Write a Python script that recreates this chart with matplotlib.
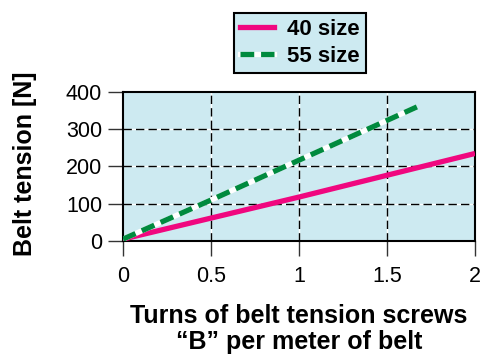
import numpy as np
import matplotlib.pyplot as plt
from matplotlib.lines import Line2D

# Data
turns_40 = [0, 1, 2]
tension_40 = [5, 118, 235]
turns_55 = [0, 0.5, 1, 1.67]
tension_55 = [5, 110, 217, 360]

x_ticks = [0, 0.5, 1, 1.5, 2]
x_tick_labels = ["0", "0.5", "1", "1.5", "2"]
y_ticks = [0, 100, 200, 300, 400]

plt.rcParams["font.family"] = ["Liberation Sans", "DejaVu Sans"]

BG = "#cdeaf1"
PINK = "#f0077f"
GREEN = "#008a3e"

W, H = 485, 359
fig = plt.figure(figsize=(W / 100, H / 100), dpi=100)
ax = fig.add_axes([123 / W, 1 - 241 / H, 352 / W, 149 / H])
ax.set_facecolor(BG)

ax.set_xlim(0, 2)
ax.set_ylim(0, 400)

# grid: white line with black dashes on top
for x in [0.5, 1, 1.5]:
    ax.axvline(x, color="white", lw=1.0, zorder=1)
    ax.axvline(x, color="black", lw=1.0, dashes=(6, 3), zorder=1.5)
for y in [100, 200, 300]:
    ax.axhline(y, color="white", lw=1.0, zorder=1)
    ax.axhline(y, color="black", lw=1.0, dashes=(6, 3), zorder=1.5)

ax.plot(turns_40, tension_40, color=PINK, lw=3.8, solid_capstyle="butt", zorder=3)
ax.plot(turns_55, tension_55, color="white", lw=3.8, solid_capstyle="butt", zorder=3)
ax.plot(turns_55, tension_55, color=GREEN, lw=3.8, dashes=(2.6, 1.3), zorder=4)

for s in ax.spines.values():
    s.set_linewidth(1.5)
    s.set_color("black")

ax.set_xticks(x_ticks)
ax.set_xticklabels(x_tick_labels)
ax.set_yticks(y_ticks)
ax.tick_params(axis="both", direction="out", length=11, width=1.0, color="#333333",
               labelsize=15.5)
ax.tick_params(axis="y", pad=4)
ax.tick_params(axis="x", pad=7)

fig.text(25 / W, 1 - 164 / H, "Belt tension [N]", rotation=90, ha="center",
         va="center", fontsize=18, fontweight="bold")
fig.text(299 / W, 1 - 329 / H, "Turns of belt tension screws\n\u201cB\u201d per meter of belt",
         ha="center", va="center", fontsize=18, fontweight="bold", linespacing=1.1)

handles = [
    Line2D([], [], color=PINK, lw=3.8),
    (Line2D([], [], color="white", lw=3.8),
     Line2D([], [], color=GREEN, lw=3.8, dashes=(2.6, 1.3))),
]
leg = fig.legend(handles, ["40 size", "55 size"], loc="center",
                 bbox_to_anchor=(300 / W, 1 - 43 / H),
                 prop={"weight": "bold", "size": 16}, frameon=True,
                 fancybox=False, handlelength=1.5, handletextpad=0.6,
                 borderpad=0.3, labelspacing=0.25, borderaxespad=0)
leg.get_frame().set_facecolor(BG)
leg.get_frame().set_edgecolor("black")
leg.get_frame().set_linewidth(1.5)
leg.get_frame().set_alpha(1)

fig.savefig("out.png", dpi=100)
